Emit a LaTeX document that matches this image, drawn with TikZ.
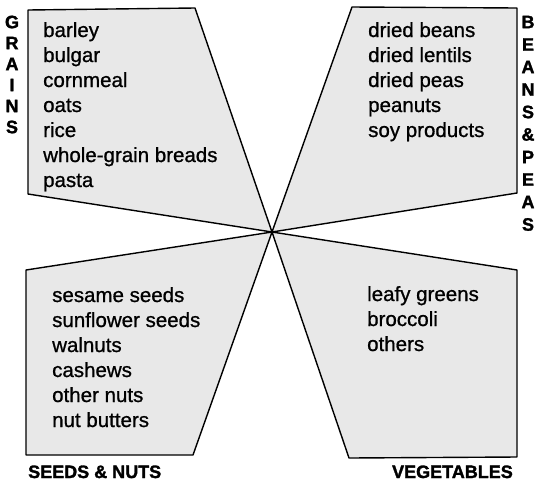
\documentclass[tikz,border=0pt]{standalone}
\usepackage{fontspec}
\setmainfont{Liberation Sans}
\newfontfamily\itemfont{Liberation Sans}[FakeBold=0.9]
\newfontfamily\labelfont{Liberation Sans Bold}[FakeBold=1.6]
\begin{document}
\begin{tikzpicture}[x=1pt,y=-1pt,
  panel/.style={draw=black, line width=1.4pt, line join=round, fill=black!9},
  item/.style={anchor=base west, inner sep=0pt, font=\itemfont\fontsize{20.5}{24}\selectfont},
  vlet/.style={anchor=center, inner sep=0pt, font=\labelfont\fontsize{18}{20}\selectfont},
  grp/.style={inner sep=0pt, font=\labelfont\fontsize{18}{21}\selectfont}]
\useasboundingbox (0,0) rectangle (535,483);
\fill[white] (0,0) rectangle (535,483);
% centre where the panels meet
\coordinate (c) at (272,232);
% panels
\draw[panel] (28,10) -- (195,8) -- (c) -- (28,194) -- cycle;
\draw[panel] (352,7) -- (517,8) -- (517,193) -- (c) -- cycle;
\draw[panel] (26,270) -- (c) -- (193,455) -- (26,455) -- cycle;
\draw[panel] (c) -- (517,270) -- (517,457) -- (349,458) -- cycle;
% grains
\foreach \t [count=\i] in {barley,bulgar,cornmeal,oats,rice,whole-grain breads,pasta}
  \node[item] (g\i) at (43,{37+25*(\i-1)}) {\t};
\foreach \l [count=\i] in {G,R,A,I,N,S}
  \node[vlet] (gl\i) at (12,{22+21*(\i-1)}) {\l};
% beans & peas
\foreach \t [count=\i] in {dried beans,dried lentils,dried peas,peanuts,soy products}
  \node[item] (b\i) at (368,{37+25*(\i-1)}) {\t};
\foreach \l [count=\i] in {B,E,A,N,S,\&,P,E,A,S}
  \node[vlet] (bl\i) at (528,{22+22.5*(\i-1)}) {\l};
% seeds & nuts
\foreach \t [count=\i] in {sesame seeds,sunflower seeds,walnuts,cashews,other nuts,nut butters}
  \node[item] (s\i) at (52,{302+25*(\i-1)}) {\t};
\node[grp, anchor=base west] (seeds) at (28,478) {SEEDS \& NUTS};
% vegetables
\foreach \t [count=\i] in {leafy greens,broccoli,others}
  \node[item] (v\i) at (367,{301+25*(\i-1)}) {\t};
\node[grp, anchor=base east] (veg) at (513,478) {VEGETABLES};
\end{tikzpicture}
\end{document}
